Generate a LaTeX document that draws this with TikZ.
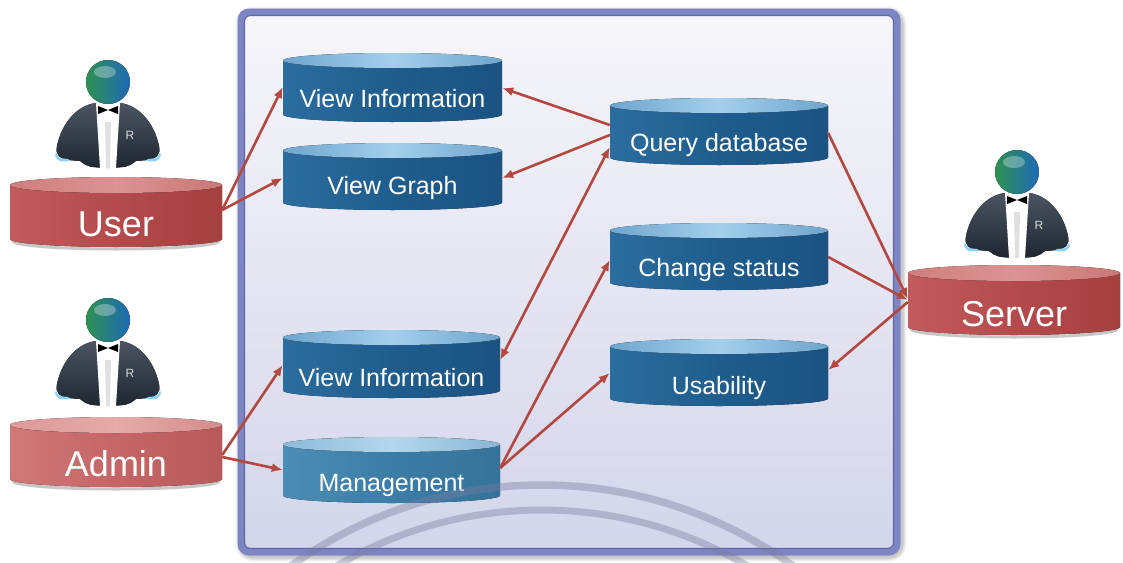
\documentclass[tikz,border=0pt]{standalone}
\usepackage{fontspec}
\setmainfont{Liberation Sans}
\usetikzlibrary{arrows.meta,calc}

\definecolor{arrowred}{HTML}{B4473F}
\definecolor{frameline}{HTML}{7D85C3}
\definecolor{framedark}{HTML}{5E66A8}
\definecolor{frametop}{HTML}{F6F6FA}
\definecolor{framebot}{HTML}{D3D5EA}
\definecolor{markgray}{HTML}{7A7C9E}
\definecolor{globegreen}{HTML}{2E9150}
\definecolor{globeblue}{HTML}{1E69B8}
\definecolor{jackettop}{HTML}{4B5563}
\definecolor{jacketbot}{HTML}{1E2631}
\definecolor{cuffblue}{HTML}{8FD0F5}

% blue "use case" cylinder: name, left, right, top, bottom, text y, label, colour set
\newcommand{\dbcyl}[8]{%
  \pgfmathsetmacro\cylrx{(#3-#2)/2}%
  \pgfmathsetmacro\cylcx{(#3+#2)/2}%
  \pgfmathsetmacro\cylw{#3-#2}%
  \fill[#8 body] (#2,#4+7.5) -- (#2,#5-7.5) arc[start angle=180,end angle=0,x radius=\cylrx,y radius=7.5] -- (#3,#4+7.5) -- cycle;
  \fill[#8 lid] (\cylcx,#4+7.5) ellipse[x radius=\cylrx,y radius=7.5];
  \node[cyltext, minimum width=\cylw pt] (#1) at (\cylcx,#6) {#7};
}

% red role cylinder with a soft shadow underneath
\newcommand{\rolecyl}[8]{%
  \pgfmathsetmacro\cylrx{(#3-#2)/2}%
  \pgfmathsetmacro\cylcx{(#3+#2)/2}%
  \pgfmathsetmacro\cylw{#3-#2}%
  \draw[black, opacity=.22, line width=3pt] (#2+3,#5-6) arc[start angle=180,end angle=0,x radius=\cylrx-3,y radius=8];
  \fill[#8 body] (#2,#4+8) -- (#2,#5-8) arc[start angle=180,end angle=0,x radius=\cylrx,y radius=8] -- (#3,#4+8) -- cycle;
  \fill[#8 lid] (\cylcx,#4+8) ellipse[x radius=\cylrx,y radius=8];
  \node[roletext, minimum width=\cylw pt] (#1) at (\cylcx,#6) {#7};
}

% tuxedo figure with a globe head, placed by the head centre
\newcommand{\roleicon}[3]{%
  \begin{scope}[shift={(#1,#2)}]
    \fill[top color=jackettop, bottom color=jacketbot]
      (-12,21) .. controls (-30,23) and (-46,40) .. (-51,64)
      .. controls (-53,73) and (-48,77) .. (-40,78) -- (-28,79)
      .. controls (-20,85) .. (0,86) .. controls (20,85) .. (28,79)
      -- (40,78) .. controls (48,77) and (53,73) .. (51,64)
      .. controls (46,40) and (30,23) .. (12,21) -- cycle;
    \fill[white] (-12,21) -- (12,21) -- (8,86) -- (-8,86) -- cycle;
    \fill[black!12] (-3,40) -- (3,40) -- (2,86) -- (-2,86) -- cycle;
    \fill[cuffblue] (-52,70) .. controls (-50,76) .. (-40,77) -- (-37,79) .. controls (-49,80) .. (-53,74) -- cycle;
    \fill[cuffblue] (52,70) .. controls (50,76) .. (40,77) -- (37,79) .. controls (49,80) .. (53,74) -- cycle;
    \fill[black] (-10,24) -- (0,28) -- (-10,32) -- cycle;
    \fill[black] (10,24) -- (0,28) -- (10,32) -- cycle;
    \node[text=black!15, inner sep=0pt, font=\fontsize{12}{12}\selectfont] (#3-mark) at (22,53) {R};
    \fill[left color=globegreen, right color=globeblue] (0,0) circle[radius=22];
    \fill[white, opacity=.3] (-3,-10) ellipse[x radius=11,y radius=6];
  \end{scope}
}

\begin{document}
\begin{tikzpicture}[x=1pt,y=-1pt,
  cyltext/.style={text=white, inner sep=0pt, text height=18pt, text depth=0pt,
    font=\fontsize{25}{30}\selectfont},
  roletext/.style={text=white, inner sep=0pt, text height=26pt, text depth=0pt,
    font=\fontsize{36}{42}\selectfont},
  blue body/.style={left color=cylA, right color=cylC, middle color=cylB},
  blue lid/.style={left color=lidA, right color=lidC, middle color=lidB},
  pale body/.style={left color=paleA, right color=paleC, middle color=paleB},
  pale lid/.style={left color=plidA, right color=plidC, middle color=plidB},
  red body/.style={left color=redA, right color=redC, middle color=redB},
  red lid/.style={left color=rlidA, right color=rlidC, middle color=rlidB},
  rose body/.style={left color=roseA, right color=roseC, middle color=roseB},
  rose lid/.style={left color=rslidA, right color=rslidC, middle color=rslidB},
  link/.style={draw=arrowred, line width=2.6pt, -{Latex[length=11pt,width=9pt]}},
  twoway/.style={draw=arrowred, line width=2.6pt, {Latex[length=11pt,width=9pt]}-{Latex[length=11pt,width=9pt]}}
]
\definecolor{cylA}{HTML}{2C6D9F}\definecolor{cylB}{HTML}{1E5D8D}\definecolor{cylC}{HTML}{1B5383}
\definecolor{lidA}{HTML}{6FA6CE}\definecolor{lidB}{HTML}{A4CFEC}\definecolor{lidC}{HTML}{6FA5CC}
\definecolor{paleA}{HTML}{4C8DB5}\definecolor{paleB}{HTML}{3B7DA6}\definecolor{paleC}{HTML}{36739A}
\definecolor{plidA}{HTML}{8DBBD8}\definecolor{plidB}{HTML}{B5D7EC}\definecolor{plidC}{HTML}{88B6D4}
\definecolor{redA}{HTML}{C25B5C}\definecolor{redB}{HTML}{B44A4C}\definecolor{redC}{HTML}{A5403F}
\definecolor{rlidA}{HTML}{CF7F7D}\definecolor{rlidB}{HTML}{DA9492}\definecolor{rlidC}{HTML}{C97775}
\definecolor{roseA}{HTML}{D07878}\definecolor{roseB}{HTML}{C56567}\definecolor{roseC}{HTML}{B85A5A}
\definecolor{rslidA}{HTML}{DC9997}\definecolor{rslidB}{HTML}{E5ABA9}\definecolor{rslidC}{HTML}{D48C8A}

\useasboundingbox (0,0) rectangle (1123,562);
\fill[white] (0,0) rectangle (1123,562);

% system boundary
\foreach \w/\o in {15/.05, 12/.07, 9/.09}
  \draw[black, opacity=\o, line width=\w pt, rounded corners=10] (243,14) rectangle (899,554);
\draw[frameline, line width=7pt, top color=frametop, bottom color=framebot, rounded corners=8]
  (241,12) rectangle (897,552);
\draw[framedark, line width=1.2pt, rounded corners=6] (244.5,15.5) rectangle (893.5,548.5);

% use cases
\dbcyl{vi1}{283}{502}{53}{122}{98}{View Information}{blue}
\dbcyl{vg}{283}{502}{143}{210}{185}{View Graph}{blue}
\dbcyl{qd}{610}{828}{98}{165}{142}{Query database}{blue}
\dbcyl{cs}{610}{828}{223}{290}{267}{Change status}{blue}
\dbcyl{us}{610}{828}{339}{406}{385}{Usability}{blue}
\dbcyl{vi2}{283}{500}{330}{398}{377}{View Information}{blue}
\dbcyl{mg}{283}{500}{437}{503}{482}{Management}{pale}

% actors
\roleicon{108}{82}{user}
\roleicon{108}{320}{admin}
\roleicon{1017}{172}{server}
\rolecyl{user}{10}{222}{177}{247}{223}{User}{red}
\rolecyl{admin}{10}{222}{417}{487}{463}{Admin}{rose}
\rolecyl{server}{908}{1120}{265}{335}{313}{Server}{red}

% associations
\draw[link] ([yshift=13pt]user.east) -- ([yshift=11pt]vi1.west);
\draw[link] ([yshift=13pt]user.east) -- ([yshift=7pt]vg.west);
\draw[link] ([yshift=17pt]qd.west) -- ([yshift=10pt]vi1.east);
\draw[link] ([yshift=7pt]qd.west) -- ([yshift=7pt]vg.east);
\draw[twoway] ([yshift=17pt]vi2.east) -- ([yshift=-5pt]qd.west);
\draw[link] ([yshift=8pt]admin.east) -- ([yshift=12pt]vi2.west);
\draw[link] ([yshift=6pt]admin.east) -- ([yshift=12pt]mg.west);
\draw[link] ([yshift=14pt]mg.east) -- ([yshift=7pt]cs.west);
\draw[link] ([yshift=14pt]mg.east) -- ([yshift=12pt]us.west);
\draw[link] ([yshift=9pt]qd.east) -- ([yshift=14pt]server.west);
\draw[link] ([yshift=10pt]cs.east) -- ([yshift=13pt]server.west);
\draw[link] ([yshift=11pt]server.west) -- ([yshift=15pt]us.east);

% faint seal rings along the lower edge
\begin{scope}
  \clip (0,0) rectangle (1123,562);
  \draw[markgray, opacity=.4, line width=7.5pt] (542,915) circle[radius=430];
  \draw[markgray, opacity=.4, line width=7pt] (542,915) circle[radius=405];
\end{scope}
\end{tikzpicture}
\end{document}
